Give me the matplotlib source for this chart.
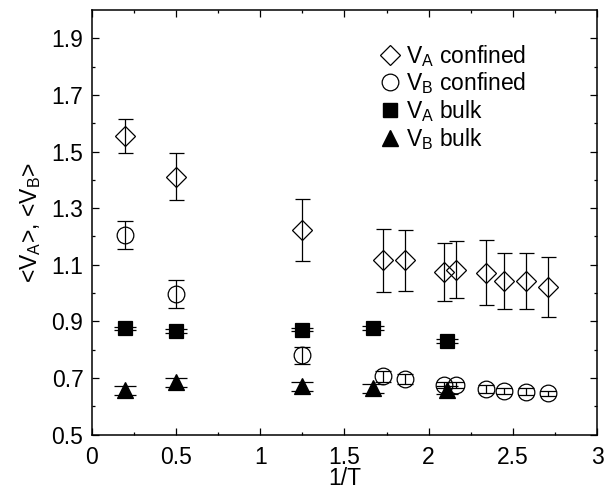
import matplotlib
matplotlib.use('Agg')
import matplotlib.pyplot as plt
from matplotlib.ticker import FixedLocator, FixedFormatter

plt.rcParams['font.family'] = ['Liberation Sans', 'DejaVu Sans']
plt.rcParams['mathtext.fontset'] = 'custom'
plt.rcParams['mathtext.rm'] = 'Liberation Sans'
plt.rcParams['mathtext.it'] = 'Liberation Sans:italic'

# ---- data ----
x_conf = [0.2, 0.5, 1.25, 1.73, 1.86, 2.09, 2.16, 2.34, 2.45, 2.58, 2.71]
va_conf = [1.555, 1.411, 1.224, 1.115, 1.115, 1.075, 1.083, 1.071, 1.043, 1.043, 1.022]
va_conf_err = [0.059, 0.083, 0.110, 0.110, 0.107, 0.103, 0.101, 0.115, 0.099, 0.100, 0.107]
vb_conf = [1.205, 0.996, 0.780, 0.706, 0.696, 0.675, 0.675, 0.661, 0.654, 0.651, 0.645]
vb_conf_err = [0.051, 0.049, 0.030, 0.020, 0.018, 0.012, 0.012, 0.015, 0.012, 0.012, 0.010]

x_bulk = [0.2, 0.5, 1.25, 1.667, 2.11]
va_bulk = [0.875, 0.866, 0.871, 0.877, 0.831]
va_bulk_err = [0.006, 0.006, 0.006, 0.006, 0.006]
vb_bulk = [0.657, 0.685, 0.670, 0.663, 0.657]
vb_bulk_err = [0.016, 0.016, 0.016, 0.015, 0.015]

x_ticks = [0, 0.5, 1, 1.5, 2, 2.5, 3]
x_ticklabels = ['0', '0.5', '1', '1.5', '2', '2.5', '3']
y_ticks = [0.5, 0.7, 0.9, 1.1, 1.3, 1.5, 1.7, 1.9]
y_ticklabels = ['0.5', '0.7', '0.9', '1.1', '1.3', '1.5', '1.7', '1.9']

legend_labels = [r'V$_\mathrm{A}$ confined', r'V$_\mathrm{B}$ confined',
                 r'V$_\mathrm{A}$ bulk', r'V$_\mathrm{B}$ bulk']

fig = plt.figure(figsize=(6.08, 4.94), dpi=100)
ax = fig.add_axes([0.151, 0.1204, 0.831, 0.8593])

lw = 0.9
ax.errorbar(x_conf, va_conf, yerr=va_conf_err, fmt='D', ms=10, mfc='none',
            mec='black', mew=lw, ecolor='black', elinewidth=lw, capsize=5.4, capthick=lw)
ax.errorbar(x_conf, vb_conf, yerr=vb_conf_err, fmt='o', ms=12, mfc='none',
            mec='black', mew=lw, ecolor='black', elinewidth=lw, capsize=5.6, capthick=lw)
ax.errorbar(x_bulk, va_bulk, yerr=va_bulk_err, fmt='s', ms=10, mfc='black',
            mec='black', mew=lw, ecolor='black', elinewidth=lw, capsize=8.0, capthick=lw)
ax.errorbar(x_bulk, vb_bulk, yerr=vb_bulk_err, fmt='^', ms=12, mfc='black',
            mec='black', mew=lw, ecolor='black', elinewidth=lw, capsize=8.0, capthick=lw)

ax.set_xlim(0, 3)
ax.set_ylim(0.5, 2.0)
ax.xaxis.set_major_locator(FixedLocator(x_ticks))
ax.xaxis.set_major_formatter(FixedFormatter(x_ticklabels))
ax.xaxis.set_minor_locator(FixedLocator([0.25, 0.75, 1.25, 1.75, 2.25, 2.75]))
ax.yaxis.set_major_locator(FixedLocator(y_ticks))
ax.yaxis.set_major_formatter(FixedFormatter(y_ticklabels))
ax.yaxis.set_minor_locator(FixedLocator([0.6, 0.8, 1.0, 1.2, 1.4, 1.6, 1.8]))
ax.tick_params(which='both', direction='in', top=True, right=True, labelsize=16.5, width=0.9)
ax.tick_params(which='major', length=5)
ax.tick_params(which='minor', length=2.5)
ax.tick_params(axis='x', pad=8)
ax.tick_params(axis='y', pad=6)
for s in ax.spines.values():
    s.set_linewidth(1.1)

ax.set_xlabel('1/T', fontsize=16.5, labelpad=-1)
ax.set_ylabel(r'<V$_\mathrm{A}$>, <V$_\mathrm{B}$>', fontsize=16.5, labelpad=6)

h1, = ax.plot([], [], 'D', ms=10, mfc='none', mec='black', mew=lw)
h2, = ax.plot([], [], 'o', ms=12, mfc='none', mec='black', mew=lw)
h3, = ax.plot([], [], 's', ms=10, mfc='black', mec='black')
h4, = ax.plot([], [], '^', ms=12, mfc='black', mec='black')
ax.legend([h1, h2, h3, h4], legend_labels, loc='upper left',
          bbox_to_anchor=(0.545, 0.95), frameon=False, fontsize=16.5,
          handlelength=1.0, handletextpad=0.2, labelspacing=0.08, borderpad=0)

fig.savefig('out.png', dpi=100)
